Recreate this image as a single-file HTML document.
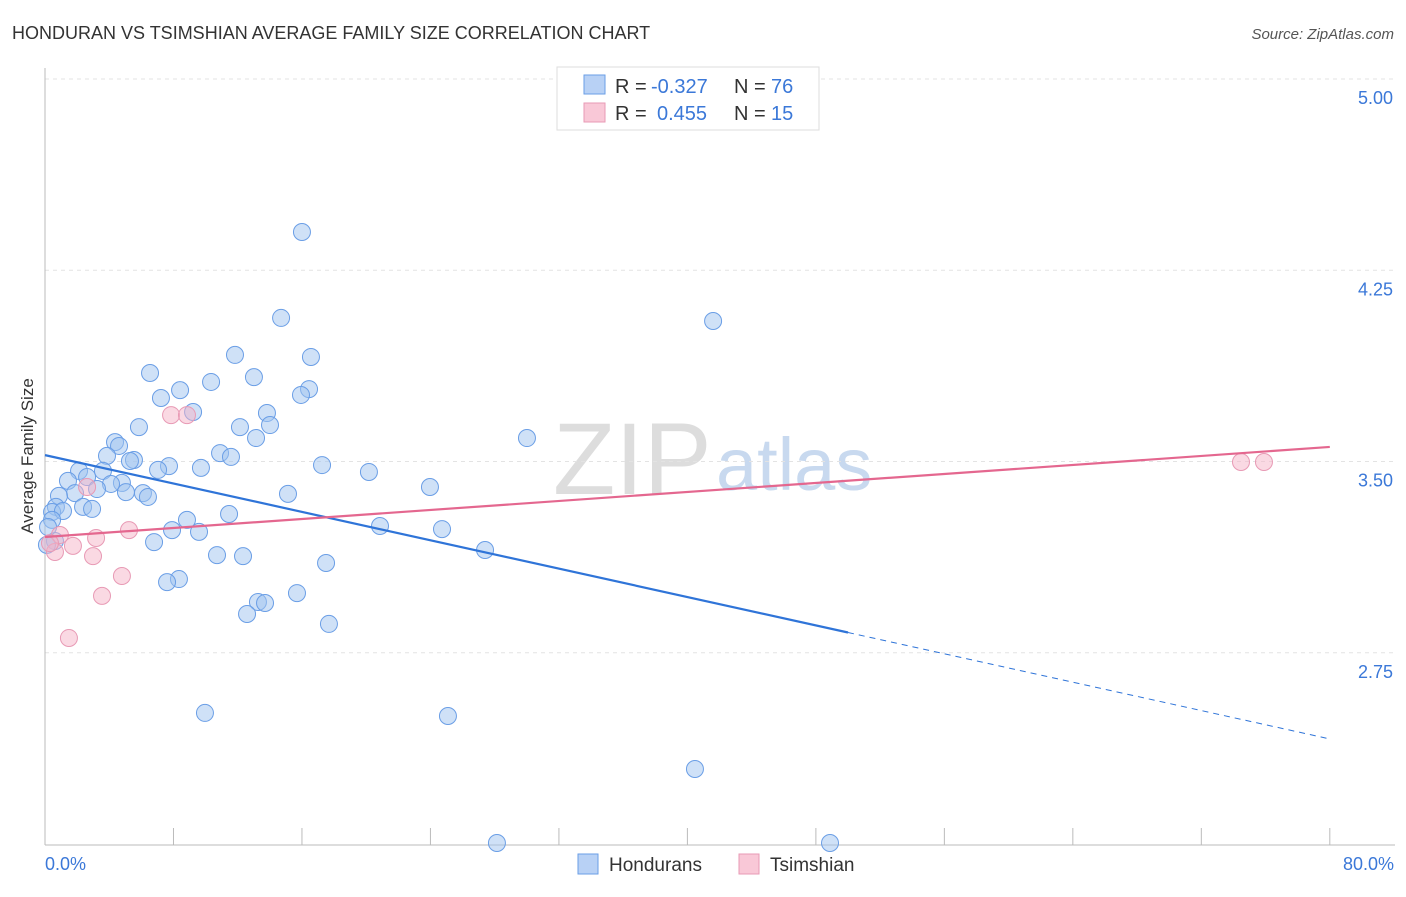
<!DOCTYPE html>
<html><head><meta charset="utf-8"><style>
body{margin:0;background:#fff;font-family:"Liberation Sans",sans-serif;}
svg text{font-family:"Liberation Sans",sans-serif;}
</style></head><body>
<svg id="c" width="1406" height="892">
<text x="12" y="39" font-size="18" fill="#333">HONDURAN VS TSIMSHIAN AVERAGE FAMILY SIZE CORRELATION CHART</text>
<text x="1394" y="39" font-size="15" fill="#555" font-style="italic" text-anchor="end">Source: ZipAtlas.com</text>
<text x="553" y="494" font-size="102" fill="#ddd" font-family="Liberation Serif">ZIP</text>
<text x="716" y="490" font-size="74" fill="#c8d9ef">atlas</text>
<g id="grid"></g>
<line x1="45" y1="68" x2="45" y2="845" stroke="#bbb"/>
<line x1="45" y1="845" x2="1395" y2="845" stroke="#bbb"/>
<g id="ticks"></g>
<g id="pts"></g>
<g id="lines"></g>
<text x="33" y="456" font-size="17" fill="#333" text-anchor="middle" transform="rotate(-90 33 456)">Average Family Size</text>
<text x="45" y="870" font-size="18" fill="#3b78d8">0.0%</text>
<text x="1394" y="870" font-size="18" fill="#3b78d8" text-anchor="end">80.0%</text>
<g>
<rect x="557" y="67" width="262" height="63" fill="#fff" stroke="#ddd"/>
<rect x="584" y="75" width="21" height="19" fill="#b8d1f5" stroke="#6a9ee6"/>
<rect x="584" y="103" width="21" height="19" fill="#f9c8d7" stroke="#e89ab5"/>
<text x="615" y="93" font-size="20" fill="#333">R = <tspan x="651" fill="#3b78d8">-0.327</tspan><tspan x="734">N = </tspan><tspan x="771" fill="#3b78d8">76</tspan></text>
<text x="615" y="120" font-size="20" fill="#333">R = <tspan x="657" fill="#3b78d8">0.455</tspan><tspan x="734">N = </tspan><tspan x="771" fill="#3b78d8">15</tspan></text>
</g>
<g>
<rect x="578" y="854" width="20" height="20" fill="#b8d1f5" stroke="#6a9ee6"/>
<text x="609" y="871" font-size="19" fill="#333">Hondurans</text>
<rect x="739" y="854" width="20" height="20" fill="#f9c8d7" stroke="#e89ab5"/>
<text x="770" y="871" font-size="19" fill="#333">Tsimshian</text>
</g>
</svg>
<script>
const yTicks=[5.00,4.25,3.50,2.75];
const blueX=[16.0,14.7,41.6,11.83,16.56,6.54,13.01,10.34,8.41,16.44,7.22,15.94,9.22,13.82,5.85,12.14,14.01,13.14,30.01,4.36,4.61,3.86,10.9,11.58,5.54,5.29,7.72,7.04,9.71,17.25,20.17,2.12,3.61,2.62,1.43,4.79,4.11,3.24,23.97,1.87,5.04,0.87,6.1,6.41,15.13,0.68,2.37,2.93,0.44,1.12,11.46,8.84,0.44,20.86,24.72,7.91,9.59,6.79,0.62,27.4,10.71,12.33,17.5,8.34,7.6,15.69,13.26,13.7,12.58,17.68,9.96,25.09,40.47,28.14,48.88,0.19,0.12];
const blueY=[4.40,4.063,4.051,3.918,3.910,3.847,3.831,3.812,3.780,3.784,3.749,3.761,3.694,3.690,3.635,3.635,3.643,3.592,3.592,3.576,3.561,3.522,3.533,3.518,3.506,3.502,3.482,3.467,3.475,3.486,3.459,3.463,3.463,3.439,3.424,3.416,3.412,3.392,3.400,3.376,3.380,3.365,3.376,3.361,3.373,3.322,3.322,3.314,3.302,3.306,3.294,3.271,3.271,3.247,3.235,3.231,3.224,3.184,3.188,3.153,3.133,3.129,3.102,3.039,3.027,2.984,2.949,2.945,2.902,2.863,2.514,2.502,2.294,2.004,2.004,3.243,3.173];
const pinkX=[7.85,8.84,2.62,0.93,1.74,3.18,5.23,0.62,2.99,4.79,3.55,1.49,74.47,75.9,0.31];
const pinkY=[3.682,3.682,3.400,3.212,3.169,3.2,3.231,3.145,3.129,3.051,2.973,2.808,3.498,3.498,3.18];
const blueFit=[3.525,2.412];
const pinkFit=[3.204,3.557];
const xs=v=>45+v*16.06, ys=v=>79+(5-v)*255;
const NS='http://www.w3.org/2000/svg';
function mk(p,t,a){const e=document.createElementNS(NS,t);for(const k in a)e.setAttribute(k,a[k]);document.getElementById(p).appendChild(e);return e;}
yTicks.forEach(t=>{
 const l=mk('grid','line',{x1:45,x2:1395,y1:ys(t),y2:ys(t),stroke:'#e3e3e3','stroke-dasharray':'4 4'});
 
 
 const tx=mk('grid','text',{x:1393,y:ys(t)+25,'font-size':18,fill:'#3b78d8','text-anchor':'end'});
 tx.textContent=t.toFixed(2);
 
 
});
for(let i=0;i<=10;i++){
 const l=mk('ticks','line',{x1:xs(i*8),x2:xs(i*8),y1:828,y2:845,stroke:'#bbb'});
 
 
}
blueX.forEach((x,i)=>{
 const c=mk('pts','circle',{cx:xs(x),cy:ys(blueY[i]),r:8.5,fill:'rgba(160,195,240,0.5)',stroke:'#6a9ee6','stroke-width':1});
 
 
});
pinkX.forEach((x,i)=>{
 const c=mk('pts','circle',{cx:xs(x),cy:ys(pinkY[i]),r:8.5,fill:'rgba(245,180,200,0.5)',stroke:'#e89ab5','stroke-width':1});
 
 
});
const bAt=x=>blueFit[0]+(blueFit[1]-blueFit[0])*x/80;
let l=mk('lines','line',{x1:xs(0),y1:ys(bAt(0)),x2:xs(50),y2:ys(bAt(50)),stroke:'#2f74d8','stroke-width':2.2});


l=mk('lines','line',{x1:xs(50),y1:ys(bAt(50)),x2:xs(80),y2:ys(bAt(80)),stroke:'#2f74d8','stroke-width':1,'stroke-dasharray':'6 5'});


l=mk('lines','line',{x1:xs(0),y1:ys(pinkFit[0]),x2:xs(80),y2:ys(pinkFit[1]),stroke:'#e4678f','stroke-width':2.2});


</script>
</body></html>
